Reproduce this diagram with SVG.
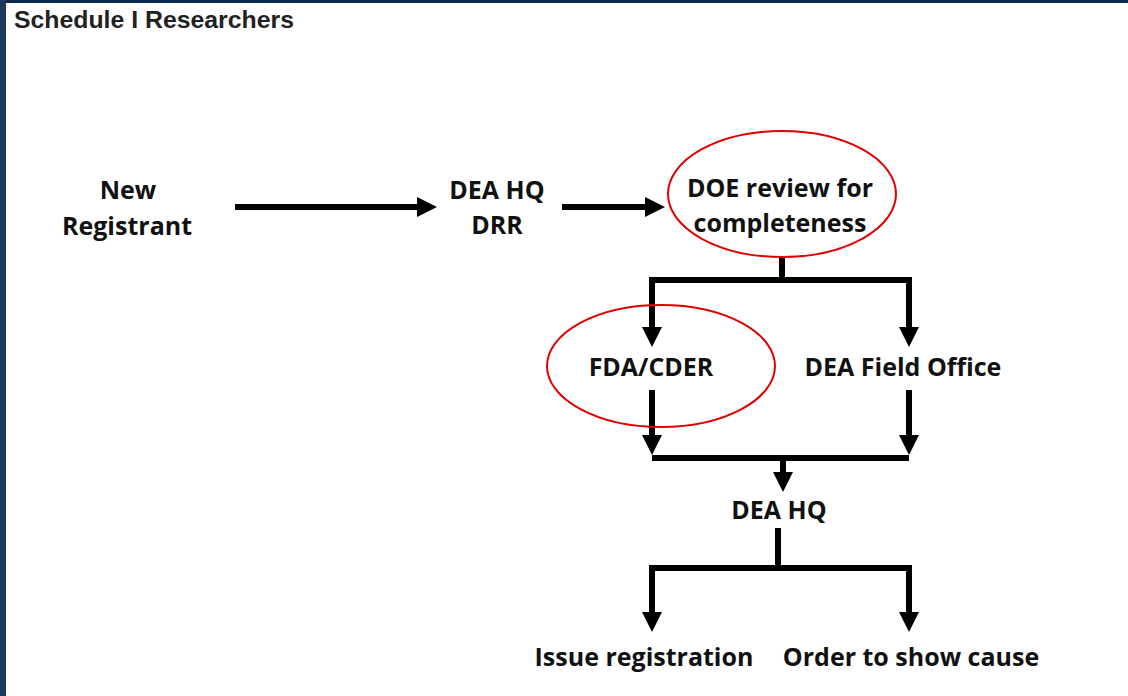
<svg xmlns="http://www.w3.org/2000/svg" width="1128" height="696" viewBox="0 0 1128 696">
<defs>
<style>
.t{font-family:"Open Sans","Noto Sans",sans-serif;font-weight:bold;font-size:25px;fill:#111;text-anchor:middle}
.ttl{font-family:"Liberation Sans",Arial,sans-serif;font-weight:bold;font-size:24px;fill:#222}
.c{fill:none;stroke:#000;stroke-width:6}
.hl{fill:none;stroke:#e00000;stroke-width:2}
</style>
<marker id="ah" markerUnits="userSpaceOnUse" markerWidth="22" markerHeight="22" viewBox="0 0 22 22" refX="4" refY="10" orient="auto-start-reverse">
<path d="M0,0 L20,10 L0,20 z" fill="#000"/>
</marker>
</defs>
<rect width="1128" height="696" fill="#fff"/>
<rect x="0" y="0" width="1128" height="3" fill="#102a4b"/>
<rect x="0" y="0" width="6" height="696" fill="#1d3a5c"/>
<text class="ttl" x="14" y="28" textLength="280" lengthAdjust="spacingAndGlyphs">Schedule I Researchers</text>

<g id="connectors">
<path class="c" d="M235,207 H421" marker-end="url(#ah)"/>
<path class="c" d="M562,207 H649" marker-end="url(#ah)"/>
<path class="c" d="M782,256 V280"/>
<path class="c" d="M652,331 V280 H909 V331" marker-start="url(#ah)" marker-end="url(#ah)"/>
<path class="c" d="M652,390 V439" marker-end="url(#ah)"/>
<path class="c" d="M909,390 V439" marker-end="url(#ah)"/>
<path class="c" d="M652,458 H909"/>
<path class="c" d="M783,458 V476" marker-end="url(#ah)"/>
<path class="c" d="M778,528 V568"/>
<path class="c" d="M652,616 V568 H909 V616" marker-start="url(#ah)" marker-end="url(#ah)"/>
</g>

<g id="new-registrant">
<text class="t" x="128" y="199">New</text>
<text class="t" x="127" y="235">Registrant</text>
</g>
<g id="dea-hq-drr">
<text class="t" x="497" y="199">DEA HQ</text>
<text class="t" x="497" y="234">DRR</text>
</g>
<g id="doe-review">
<ellipse class="hl" cx="782" cy="194" rx="114" ry="63"/>
<text class="t" x="780" y="197">DOE review for</text>
<text class="t" x="780" y="232">completeness</text>
</g>
<g id="fda-cder">
<ellipse class="hl" cx="661" cy="366" rx="114" ry="61"/>
<text class="t" x="651" y="376">FDA/CDER</text>
</g>
<g id="dea-field-office">
<text class="t" x="903" y="376">DEA Field Office</text>
</g>
<g id="dea-hq">
<text class="t" x="779" y="519">DEA HQ</text>
</g>
<g id="issue-registration">
<text class="t" x="644" y="666">Issue registration</text>
</g>
<g id="order-show-cause">
<text class="t" x="911" y="666">Order to show cause</text>
</g>
</svg>
